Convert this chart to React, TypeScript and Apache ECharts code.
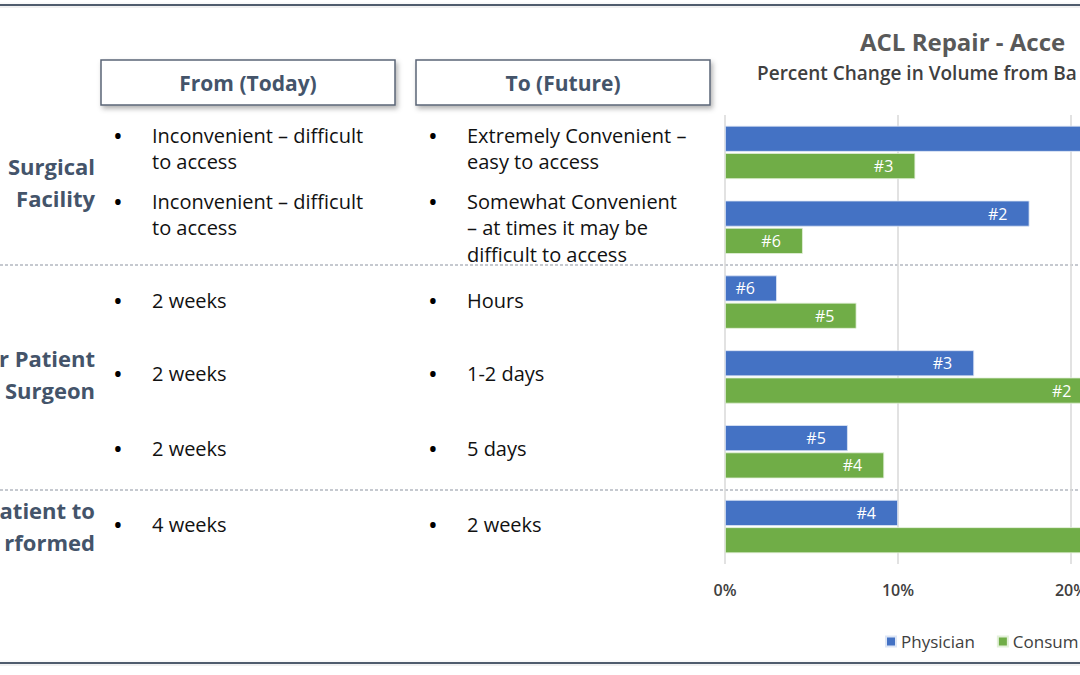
import React, { useEffect, useRef } from 'react';
import * as echarts from 'echarts';

// ---- data ----
const categories = [
  'Facility: Extremely Convenient',
  'Facility: Somewhat Convenient',
  'Surgeon: Hours',
  'Surgeon: 1-2 days',
  'Surgeon: 5 days',
  'Surgery: 2 weeks',
];
const physicianValues = [24.5, 17.6, 3.0, 14.4, 7.1, 10.0];
const consumerValues = [11.0, 4.5, 7.6, 21.3, 9.2, 25.5];
const physicianRanks = ['#1', '#2', '#6', '#3', '#5', '#4'];
const consumerRanks = ['#3', '#6', '#5', '#2', '#4', '#1'];
const seriesNames = ['Physician', 'Consumer'];
// legend texts as far as the (cropped) slide shows them
const legendTexts = ['Physician', 'Consum'];

// texts as far as the (cropped) slide shows them
const titleText = 'ACL Repair - Acce';
const subtitleText = 'Percent Change in Volume from Ba';
const fromHeader = 'From (Today)';
const toHeader = 'To (Future)';
const fromItems = [
  ['Inconvenient – difficult', 'to access'],
  ['Inconvenient – difficult', 'to access'],
  ['2 weeks'],
  ['2 weeks'],
  ['2 weeks'],
  ['4 weeks'],
];
const toItems = [
  ['Extremely Convenient –', 'easy to access'],
  ['Somewhat Convenient', '– at times it may be', 'difficult to access'],
  ['Hours'],
  ['1-2 days'],
  ['5 days'],
  ['2 weeks'],
];
const groupLabels = [
  ['Surgical', 'Facility'],
  ['r Patient', 'Surgeon'],
  ['atient to', 'rformed'],
];

const FONT = '"Open Sans", Lato, sans-serif';

// layout of the (cropped) plot area
const GRID_LEFT = 725;
const GRID_WIDTH = 519;
const X_MAX = 30;
const VIEW_WIDTH = 1080;
const LABEL_DIST = 22;

export default function App() {
  const ref = useRef<HTMLDivElement>(null);

  useEffect(() => {
    if (!ref.current) return;
    const chart = echarts.init(ref.current, undefined, { renderer: 'svg' });

    const graphics: any[] = [];
    const txt = (text: string, x: number, y: number, size: number, color: string, weight: string, align: string) => ({
      type: 'text',
      silent: true,
      style: {
        text, x, y,
        fill: color,
        font: `${weight} ${size}px ${FONT}`,
        textAlign: align, align,
        textVerticalAlign: 'middle', verticalAlign: 'middle',
      },
    });

    // frame lines
    graphics.push({
      type: 'rect', shape: { x: -10, y: 4, width: 1100, height: 2 },
      style: { fill: '#4f5b6d', shadowBlur: 6, shadowOffsetY: 3, shadowColor: 'rgba(0,0,0,0.25)' },
    });
    graphics.push({
      type: 'rect', shape: { x: -10, y: 662, width: 1100, height: 2 },
      style: { fill: '#4f5b6d', shadowBlur: 6, shadowOffsetY: 3, shadowColor: 'rgba(0,0,0,0.25)' },
    });

    // header boxes
    const boxes = [
      { x: 101, text: fromHeader },
      { x: 416, text: toHeader },
    ];
    boxes.forEach((b) => {
      graphics.push({
        type: 'rect', shape: { x: b.x, y: 60, width: 294, height: 45 },
        style: {
          fill: '#ffffff', stroke: '#5b6577', lineWidth: 1.5,
          shadowBlur: 5, shadowOffsetX: 2, shadowOffsetY: 3, shadowColor: 'rgba(0,0,0,0.3)',
        },
      });
      graphics.push(txt(b.text, b.x + 147, 83, 21, '#44546a', 'bold', 'center'));
    });

    // dashed separators
    [265, 490].forEach((y) => {
      graphics.push({
        type: 'line', silent: true,
        shape: { x1: 0, y1: y, x2: 1080, y2: y },
        style: { stroke: '#8c93a0', lineWidth: 1, lineDash: [3, 2] },
      });
    });

    // group labels
    const groupY = [166, 358, 510];
    groupLabels.forEach((lines, gi) => {
      lines.forEach((l, li) => {
        graphics.push(txt(l, 95, groupY[gi] + li * 32, 22, '#44546a', 'bold', 'right'));
      });
    });

    // bullet rows
    const rowY = [135, 201, 300, 373, 448, 524];
    const cols = [
      { bullet: 118, textX: 152, items: fromItems },
      { bullet: 433, textX: 467, items: toItems },
    ];
    cols.forEach((c) => {
      c.items.forEach((lines, ri) => {
        graphics.push(txt('•', c.bullet, rowY[ri], 26, '#000000', 'normal', 'center'));
        lines.forEach((l, li) => {
          graphics.push(txt(l, c.textX, rowY[ri] + li * 26.5, 20, '#111111', 'normal', 'left'));
        });
      });
    });

    // titles
    graphics.push(txt(titleText, 860, 41, 24, '#595959', 'bold', 'left'));
    graphics.push(txt(subtitleText, 757, 73, 19, '#404040', '600', 'left'));

    // a label whose bar end lies beyond the cropped view is not visible
    const pxPerUnit = GRID_WIDTH / X_MAX;
    const visibleLabelMax = (VIEW_WIDTH - GRID_LEFT + LABEL_DIST) / pxPerUnit;

    const barLabel = (ranks: string[]) => ({
      show: true,
      position: 'insideRight',
      distance: LABEL_DIST,
      color: '#ffffff',
      fontSize: 16,
      fontFamily: FONT,
      formatter: (p: any) => (p.value > visibleLabelMax ? '' : ranks[p.dataIndex]),
    });

    chart.setOption({
      animation: false,
      backgroundColor: '#ffffff',
      grid: {
        left: GRID_LEFT, top: 115, width: GRID_WIDTH, height: 449,
        containLabel: false, outerBoundsMode: 'none',
      },
      legend: {
        data: seriesNames,
        left: 880,
        top: 628,
        width: 400,
        icon: 'rect',
        itemWidth: 10,
        itemHeight: 10,
        itemGap: 22,
        formatter: (name: string) => legendTexts[seriesNames.indexOf(name)],
        textStyle: { color: '#404040', fontSize: 17, fontFamily: FONT },
      },
      xAxis: {
        type: 'value',
        min: 0,
        max: X_MAX,
        interval: 10,
        axisLine: { show: false },
        axisTick: { show: false },
        splitLine: { show: true, lineStyle: { color: '#d9d9d9', width: 1.5 } },
        axisLabel: {
          formatter: '{value}%',
          color: '#404040',
          fontSize: 16,
          fontWeight: 600,
          fontFamily: FONT,
          margin: 18,
          showMaxLabel: false,
        },
      },
      yAxis: {
        type: 'category',
        data: categories,
        inverse: true,
        axisLine: { show: false },
        axisTick: { show: false },
        axisLabel: { show: false },
      },
      series: [
        {
          name: seriesNames[0],
          type: 'bar',
          data: physicianValues,
          barWidth: 26,
          barGap: '5%',
          itemStyle: { color: '#4472c4', borderColor: '#dde6f5', borderWidth: 0.8 },
          label: barLabel(physicianRanks),
        },
        {
          name: seriesNames[1],
          type: 'bar',
          data: consumerValues,
          barWidth: 26,
          barGap: '5%',
          itemStyle: { color: '#70ad47', borderColor: '#e3f0da', borderWidth: 0.8 },
          label: barLabel(consumerRanks),
        },
      ],
      graphic: { elements: graphics },
    });

    return () => chart.dispose();
  }, []);

  return (
    <div
      ref={ref}
      style={{ position: 'fixed', left: 0, top: 0, width: 1080, height: 675, overflow: 'hidden' }}
    />
  );
}
